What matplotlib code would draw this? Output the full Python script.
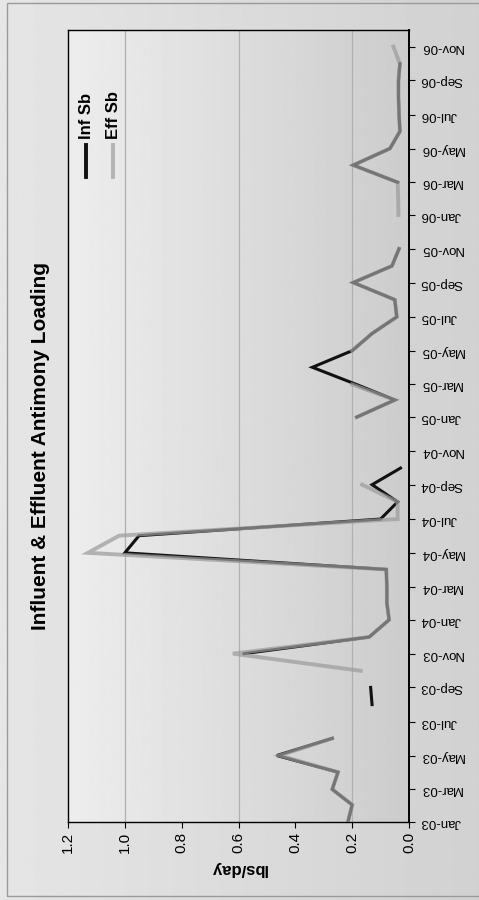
import numpy as np
import pandas as pd
import matplotlib
matplotlib.use("Agg")
import matplotlib.pyplot as plt
import matplotlib.dates as mdates
from matplotlib.lines import Line2D

plt.rcParams['font.family'] = ['Liberation Sans', 'DejaVu Sans']

nan = np.nan
months = pd.date_range('2003-01-01', '2006-12-01', freq='MS')

inf_sb = [0.215, 0.20, 0.27, 0.25, 0.465, 0.27, nan, 0.13, 0.135, nan, 0.58, 0.14,
          0.07, 0.078, 0.078, 0.08, 1.00, 0.95, 0.10, 0.04, 0.13, 0.03, nan, nan,
          0.184, 0.05, 0.185, 0.34, 0.20, 0.13, 0.043, 0.05, 0.196, 0.06, 0.035, nan,
          nan, nan, 0.04, 0.196, 0.067, 0.032, 0.035, 0.037, 0.037, 0.032, nan, nan]
eff_sb = [0.215, 0.20, 0.27, 0.25, 0.455, 0.27, nan, nan, nan, 0.17, 0.62, 0.14,
          0.07, 0.078, 0.078, 0.08, 1.13, 1.02, 0.04, 0.04, 0.165, nan, nan, nan,
          0.184, 0.05, 0.20, nan, 0.20, 0.13, 0.043, 0.05, 0.196, 0.06, 0.035, nan,
          0.037, 0.038, 0.04, 0.196, 0.067, 0.032, 0.035, 0.037, 0.037, 0.032, 0.055, nan]

value_ticks = [0.0, 0.2, 0.4, 0.6, 0.8, 1.0, 1.2]
grid_vals = [0.2, 0.6, 1.0]
tick_months = pd.date_range('2003-01-01', '2006-11-01', freq='2MS')
series_names = ['Inf Sb', 'Eff Sb']
title = 'Influent & Effluent Antimony Loading'
ylabel = 'lbs/day'

W, H = 479, 900
fig = plt.figure(figsize=(W / 100, H / 100), dpi=100)
fig.patch.set_facecolor('#d8d8d8')

# background gradient for the whole chart area
bg = fig.add_axes([0, 0, 1, 1], zorder=-10)
grad = np.linspace(0.90, 0.82, 256).reshape(1, -1)
bg.imshow(grad, aspect='auto', cmap='gray', vmin=0, vmax=1, extent=[0, 1, 0, 1])
bg.add_patch(plt.Rectangle((7 / W, 1 - 896 / H), 1, 893 / H, fill=False,
                           ec='#9a9a9a', lw=1.0, transform=bg.transAxes))
bg.set_axis_off()

ax = fig.add_axes([68 / W, 1 - 822 / H, 341 / W, 792 / H])
ax.set_facecolor('none')
# plot-area gradient
pa = np.linspace(0.93, 0.80, 256).reshape(1, -1)
ax.imshow(pa, aspect='auto', cmap='gray', vmin=0, vmax=1,
          extent=[1.2, 0.0, mdates.date2num(months[0]), mdates.date2num(months[-1])],
          zorder=0)

ydates = mdates.date2num(months)
for g in grid_vals:
    ax.axvline(g, color='#b0b0b0', lw=0.9, zorder=1)

ax.plot(inf_sb, ydates, color='#111111', lw=2.2, zorder=3, solid_joinstyle='miter')
ax.plot(eff_sb, ydates, color='#9c9c9c', lw=2.8, alpha=0.72, zorder=4, solid_joinstyle='miter')

ax.set_xlim(1.2, 0.0)
ax.set_ylim(mdates.date2num(months[0]), mdates.date2num(months[-1]))

ax.set_xticks(value_ticks)
ax.set_xticklabels([f'{v:.1f}' for v in value_ticks], rotation=90, fontsize=11)
ax.tick_params(axis='x', direction='out', length=4, width=0.8, pad=3, colors='black')

ax.yaxis.tick_right()
ax.set_yticks(mdates.date2num(tick_months))
ax.set_yticklabels([d.strftime('%b-%y') for d in tick_months], rotation=180,
                   fontsize=9.5, va='center', ha='left')
ax.tick_params(axis='y', direction='out', length=4, width=0.8, pad=4, colors='black')

for s in ax.spines.values():
    s.set_color('black')
    s.set_linewidth(1.0)
ax.spines['right'].set_linewidth(1.4)

ax.set_xlabel(ylabel, rotation=180, fontsize=12, fontweight='bold', labelpad=6)

fig.text(41 / W, 0.505, title, rotation=90, fontsize=15, fontweight='bold',
         ha='center', va='center')

# legend (rotated)
leg_colors = ['#111111', '#b4b4b4']
leg_x = [0.053, 0.132]
for name, c, lx in zip(series_names, leg_colors, leg_x):
    ax.add_line(Line2D([lx, lx], [0.815, 0.855], transform=ax.transAxes,
                       color=c, lw=2.8, zorder=5))
    ax.text(lx, 0.862, name, transform=ax.transAxes, rotation=90, fontsize=12,
            fontweight='bold', ha='center', va='bottom', zorder=5)

fig.savefig('out.png', dpi=100, facecolor=fig.get_facecolor())
